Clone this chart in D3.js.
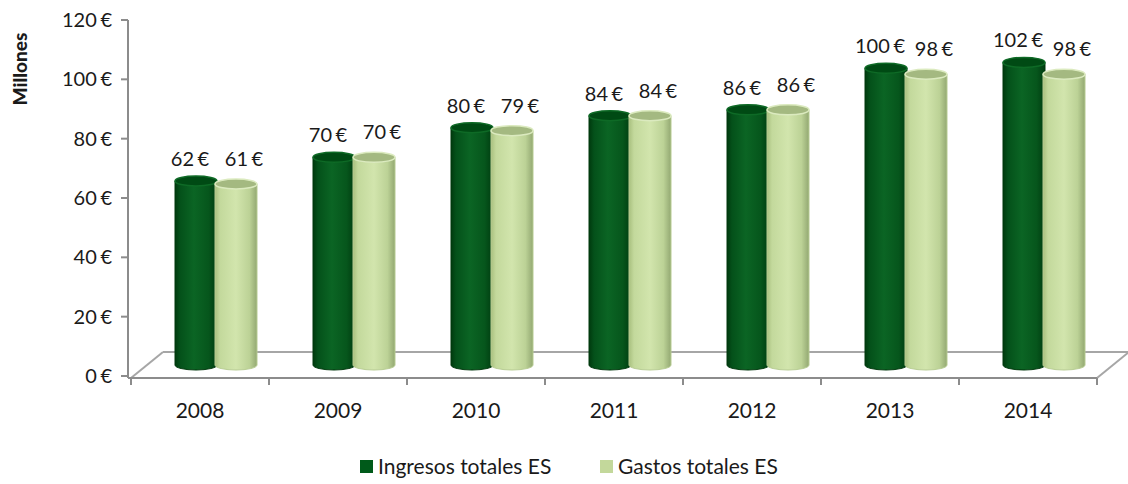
<!DOCTYPE html>
<html>
<head>
<meta charset="utf-8">
<script src="https://cdn.jsdelivr.net/npm/d3@7"></script>
<style>
  body { margin: 0; background: #fff; }
  svg text { font-family: Lato, "Open Sans", sans-serif; fill: #1a1a1a; }
  .euro { word-spacing: -1.5px; }
</style>
</head>
<body>
<svg id="chart" width="1128" height="484"></svg>
<script>
// chart data
var years = ["2008", "2009", "2010", "2011", "2012", "2013", "2014"];
var ingresos = [62, 70, 80, 84, 86, 100, 102];
var gastos = [61, 70, 79, 84, 86, 98, 98];
var yTicks = [0, 20, 40, 60, 80, 100, 120];
var seriesNames = ["Ingresos totales ES", "Gastos totales ES"];

var svg = d3.select("#chart");
var defs = svg.append("defs");

// front edge of the floor and depth offset
var x = d3.scaleBand().domain(years).range([131, 1097]);
var depthX = 32, depthY = -26;
var floorY = 378;

// axis scale (front) and bar scale (mid depth) share the same slope
var y = d3.scaleLinear().domain([0, 120]).range([376, 20]);
var yBar = d3.scaleLinear().domain([0, 120]).range([floorY + depthY / 2, floorY + depthY / 2 - 356]);

// gradients
function grad(id, stops) {
  var g = defs.append("linearGradient").attr("id", id)
    .attr("x1", "0%").attr("x2", "100%").attr("y1", "0%").attr("y2", "0%");
  stops.forEach(function (s) {
    g.append("stop").attr("offset", s[0]).attr("stop-color", s[1]);
  });
}
grad("gDark", [["0%", "#003a0e"], ["12%", "#04511a"], ["45%", "#0b6524"], ["80%", "#06561c"], ["100%", "#003c10"]]);
grad("gLight", [["0%", "#a9c07f"], ["12%", "#c3d99c"], ["50%", "#d2e5ad"], ["82%", "#bcd296"], ["100%", "#93a872"]]);

// floor
var fl = svg.append("g").attr("stroke", "#a6a6a6").attr("stroke-width", 2).attr("fill", "none");
fl.append("path")
  .attr("d", "M" + (131 + depthX) + "," + (floorY + depthY) + " L1128," + (floorY + depthY));
fl.append("path")
  .attr("d", "M131," + floorY + " L" + (131 + depthX) + "," + (floorY + depthY));
fl.append("path")
  .attr("d", "M1097," + floorY + " L" + (1097 + depthX) + "," + (floorY + depthY));

// y axis
var ax = svg.append("g");
ax.append("line").attr("x1", 128).attr("x2", 128).attr("y1", y(120)).attr("y2", floorY)
  .attr("stroke", "#8c8c8c").attr("stroke-width", 2);
ax.selectAll(".yt").data(yTicks).enter().append("line")
  .attr("x1", 121).attr("x2", 128)
  .attr("y1", function (d) { return y(d); }).attr("y2", function (d) { return y(d); })
  .attr("stroke", "#8c8c8c").attr("stroke-width", 2);
ax.selectAll(".yl").data(yTicks).enter().append("text")
  .attr("class", "euro")
  .attr("x", 112).attr("y", function (d) { return y(d); })
  .attr("dy", "0.35em").attr("text-anchor", "end")
  .style("font-size", "20px")
  .text(function (d) { return d + " €"; });

svg.append("text")
  .attr("transform", "translate(27,69) rotate(-90)")
  .attr("text-anchor", "middle")
  .style("font-size", "19px").style("font-weight", "900")
  .text("Millones");

// front edge + category ticks
svg.append("line").attr("x1", 128).attr("x2", 1097).attr("y1", floorY).attr("y2", floorY)
  .attr("stroke", "#8c8c8c").attr("stroke-width", 2);
var edges = years.map(function (d) { return x(d); }).concat([x.range()[1]]);
svg.selectAll(".xt").data(edges).enter().append("line")
  .attr("x1", function (d) { return d; }).attr("x2", function (d) { return d; })
  .attr("y1", floorY).attr("y2", floorY + 7)
  .attr("stroke", "#8c8c8c").attr("stroke-width", 2);
svg.selectAll(".xl").data(years).enter().append("text")
  .attr("x", function (d) { return x(d) + x.bandwidth() / 2; })
  .attr("y", 411).attr("dy", "0.35em").attr("text-anchor", "middle")
  .style("font-size", "21px")
  .text(function (d) { return d; });

// cylinders
var r = 21, ry = 5;
function cylinder(g, cx, v, fill, topFill, topStroke, edge) {
  var top = yBar(v), base = yBar(0);
  g.append("path")
    .attr("d", "M" + (cx - r) + "," + top + " L" + (cx - r) + "," + base +
      " A" + r + "," + ry + " 0 0 0 " + (cx + r) + "," + base +
      " L" + (cx + r) + "," + top + " Z")
    .attr("fill", fill).attr("stroke", edge).attr("stroke-width", 1);
  g.append("ellipse").attr("cx", cx).attr("cy", top).attr("rx", r).attr("ry", ry)
    .attr("fill", topFill).attr("stroke", topStroke).attr("stroke-width", 1.5);
}

var bars = svg.append("g");
years.forEach(function (yr, i) {
  var c = x(yr) + x.bandwidth() / 2 + depthX / 2;
  cylinder(bars, c - 20, ingresos[i], "url(#gDark)", "#004a14", "#0e6a26", "#00380c");
  cylinder(bars, c + 20, gastos[i], "url(#gLight)", "#a4b981", "#dbeabf", "#b7cc92");
});

// value labels
var lab = svg.append("g").attr("class", "euro").style("font-size", "20px");
years.forEach(function (yr, i) {
  var c = x(yr) + x.bandwidth() / 2 + depthX / 2;
  lab.append("text").attr("x", c - 26).attr("y", yBar(ingresos[i]) - 22)
    .attr("dy", "0.35em").attr("text-anchor", "middle").text(ingresos[i] + " €");
  lab.append("text").attr("x", c + 28).attr("y", yBar(gastos[i]) - 25)
    .attr("dy", "0.35em").attr("text-anchor", "middle").text(gastos[i] + " €");
});

// legend
var legend = svg.append("g").style("font-size", "21px");
var legendItems = [
  { name: seriesNames[0], color: "#005a1a", x: 360 },
  { name: seriesNames[1], color: "#c3d89b", x: 600 }
];
legendItems.forEach(function (d) {
  legend.append("rect").attr("x", d.x).attr("y", 460).attr("width", 13).attr("height", 13)
    .attr("fill", d.color);
  legend.append("text").attr("x", d.x + 18).attr("y", 467).attr("dy", "0.35em").text(d.name);
});
</script>
</body>
</html>
